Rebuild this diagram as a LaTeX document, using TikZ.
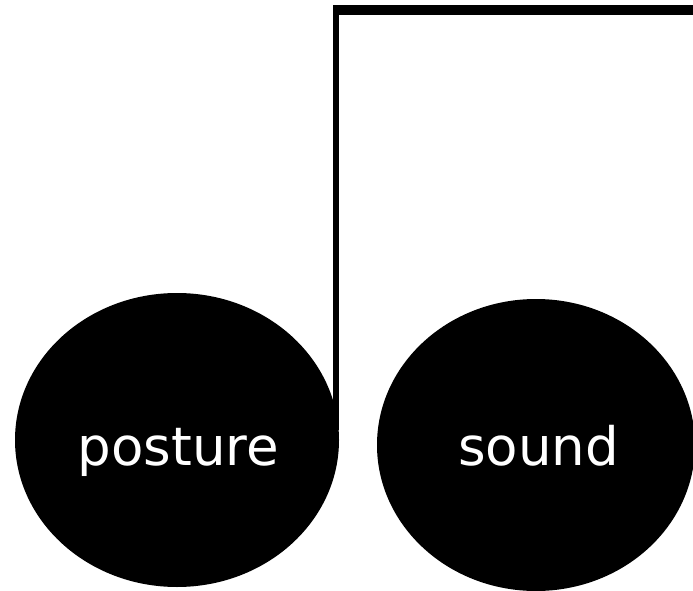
\documentclass[tikz,border=0pt]{standalone}
\usepackage{fontspec}
\setmainfont{DejaVu Sans}
\usetikzlibrary{shapes.geometric}
\begin{document}
\begin{tikzpicture}[x=1pt,y=1pt,
  blob/.style={ellipse,fill=black,inner sep=0pt},
  word/.style={text=white,inner sep=0pt,anchor=base,font=\fontsize{53}{60}\selectfont},
  stem/.style={draw=black,line cap=butt}]
\useasboundingbox (0,0) rectangle (693,590);
\node[blob,minimum width=324pt,minimum height=294pt] (posture) at (177,150) {};
\node[blob,minimum width=318pt,minimum height=292pt] (sound) at (536,145) {};
\node[word] (posturetext) at (178.5,125) {posture};
\node[word] (soundtext) at (538.5,125) {sound};
\coordinate (base) at (336,160);
\coordinate (corner) at (336,580);
\coordinate (tail) at (693,580);
\draw[stem,line width=6pt] (base) -- ([yshift=5pt]corner);
\draw[stem,line width=10pt] ([xshift=-3pt]corner) -- (tail);
\end{tikzpicture}
\end{document}
